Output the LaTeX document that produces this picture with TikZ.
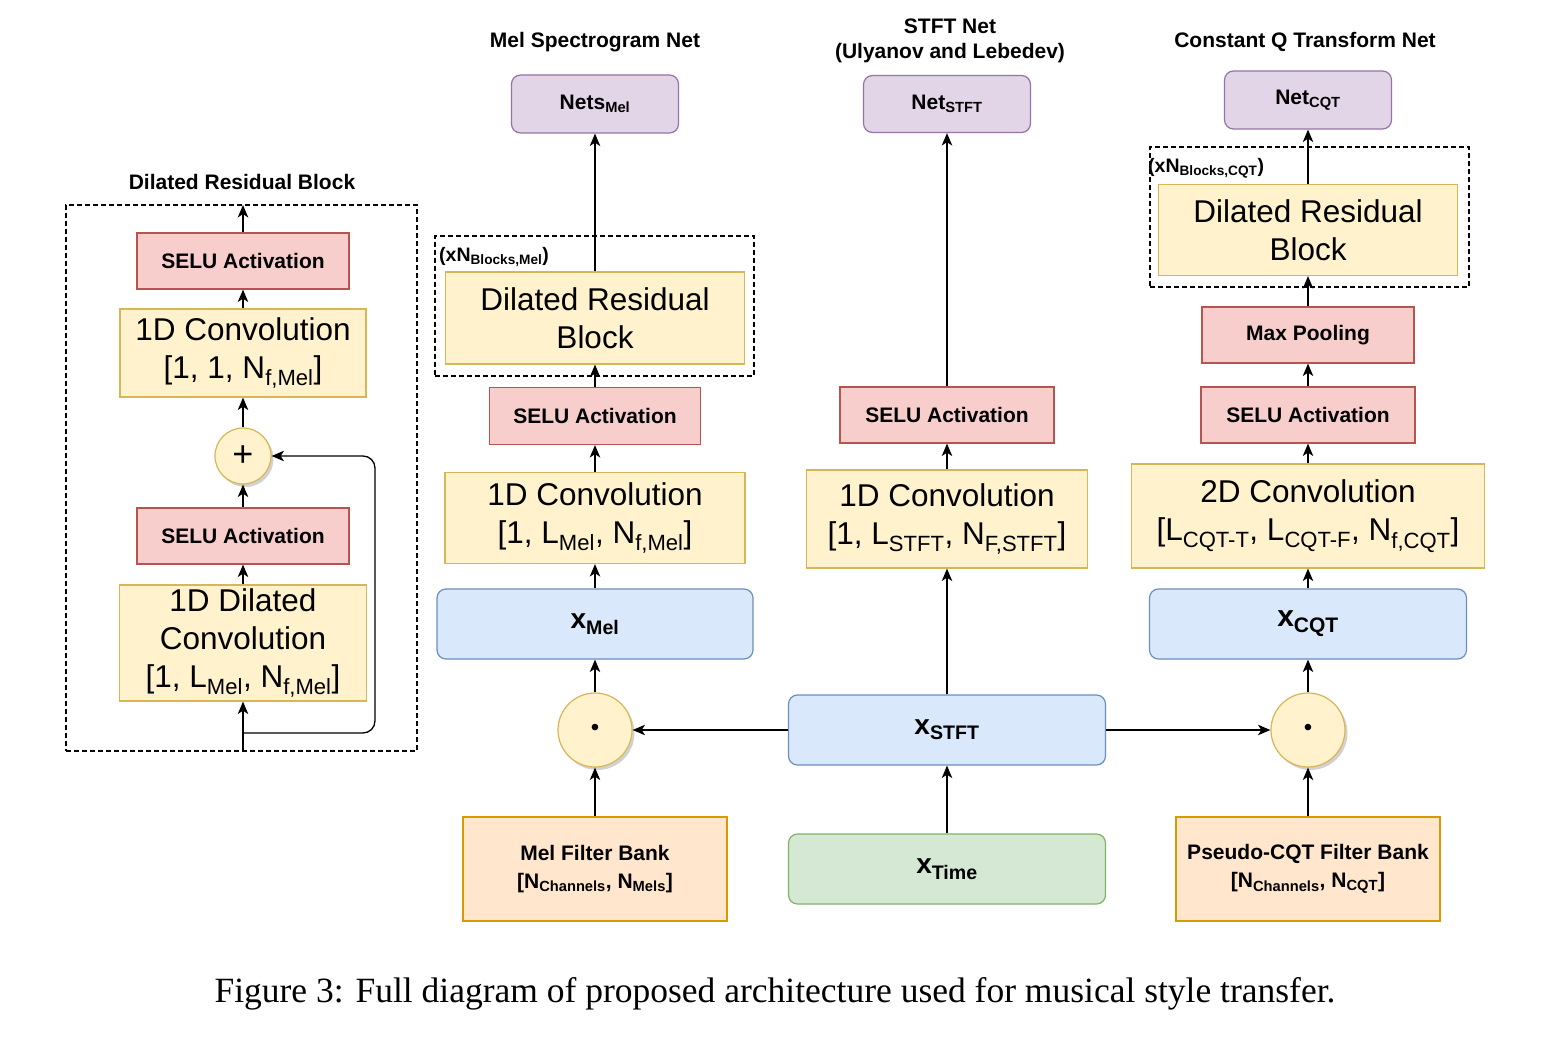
\documentclass[tikz,border=0pt]{standalone}
\usepackage{fontspec}
\setmainfont{Liberation Sans}
\newfontfamily\capfont{Liberation Serif}
\usetikzlibrary{arrows.meta,shadows}
\definecolor{yelF}{HTML}{FFF2CC}\definecolor{yelD}{HTML}{D6B656}
\definecolor{redF}{HTML}{F8CECC}\definecolor{redD}{HTML}{B85450}
\definecolor{purF}{HTML}{E1D5E7}\definecolor{purD}{HTML}{9673A6}
\definecolor{bluF}{HTML}{DAE8FC}\definecolor{bluD}{HTML}{6C8EBF}
\definecolor{grnF}{HTML}{D5E8D4}\definecolor{grnD}{HTML}{82B366}
\definecolor{orgF}{HTML}{FFE6CC}\definecolor{orgD}{HTML}{D79B00}
\newcommand\fbig{\fontsize{31.5}{38}\selectfont}
\newcommand\fsb{\fontsize{21}{28}\selectfont\bfseries}
\newcommand\fxv{\fontsize{28}{32}\selectfont\bfseries}
\newcommand\flab{\fontsize{19.5}{22}\selectfont\bfseries}
\newcommand\sbs[1]{\textsubscript{#1}}
\tikzset{
  base/.style={draw, line width=1.2pt, inner sep=0pt, align=center},
  yel/.style={base, fill=yelF, draw=yelD, font=\fbig},
  red/.style={base, fill=redF, draw=redD, font=\fsb},
  pur/.style={base, rounded corners=9pt, fill=purF, draw=purD, font=\fsb},
  blu/.style={base, rounded corners=9pt, fill=bluF, draw=bluD, font=\fxv},
  grn/.style={base, rounded corners=9pt, fill=grnF, draw=grnD, font=\fxv},
  org/.style={base, fill=orgF, draw=orgD, font=\fsb},
  op/.style={base, circle, fill=yelF, draw=yelD, minimum size=74pt,
    drop shadow={shadow xshift=2.5pt, shadow yshift=-3pt, opacity=0.35}},
  arr/.style={-{Stealth[length=12.5pt,width=10.5pt,inset=3.5pt]}, line width=1.3pt},
  dbox/.style={draw, line width=1.2pt, dash pattern=on 5pt off 3pt, inner sep=0pt},
  ttl/.style={font=\fsb, align=center, inner sep=0pt},
}
\begin{document}
\begin{tikzpicture}[x=1pt,y=-1pt]
\useasboundingbox[fill=white] (0,0) rectangle (1566,1056);

% ---------- left: dilated residual block ----------
\node[ttl] (tl) at (242,182) {Dilated Residual Block};
\node[dbox, minimum width=351pt, minimum height=546pt] (lbox) at (241.5,478) {};
\coordinate (lt) at (243,205);
\coordinate (lb) at (243,751);
\node[red, minimum width=212pt, minimum height=56pt] (ls2) at (243,261) {SELU Activation};
\node[yel, minimum width=246pt, minimum height=88pt] (lc2) at (243,353) {1D Convolution\\{[}1, 1, N\sbs{f,Mel}]};
\node[op, minimum size=56pt] (plus) at (243,456) {\fontsize{36}{36}\selectfont +};
\node[red, minimum width=212pt, minimum height=56pt] (ls1) at (243,536) {SELU Activation};
\node[yel, minimum width=247pt, minimum height=116pt] (ldc) at (243,643) {1D Dilated\\Convolution\\{[}1, L\sbs{Mel}, N\sbs{f,Mel}]};
\coordinate (lj) at (243,733);
\coordinate (sk1) at (375,733);
\coordinate (sk2) at (375,456);
\draw[arr] (lb) -- (ldc.south);
\draw[arr] (ldc) -- (ls1);
\draw[arr] (ls1) -- (plus);
\draw[arr] (plus) -- (lc2);
\draw[arr] (lc2) -- (ls2);
\draw[arr] (ls2.north) -- (lt);
\draw[arr, rounded corners=12pt] (lj) -- (sk1) -- (sk2) -- (plus.east);

% ---------- Mel column ----------
\node[ttl] (tm) at (595,42) {Mel Spectrogram Net};
\node[pur, minimum width=167pt, minimum height=58pt] (nm) at (595,104) {Nets\sbs{Mel}};
\node[dbox, minimum width=319pt, minimum height=140pt] (mbox) at (594.5,306) {};
\node[anchor=west, font=\flab, inner sep=0pt] (mlab) at (439,257) {(xN\sbs{Blocks,Mel})};
\node[yel, minimum width=299pt, minimum height=92pt] (mdrb) at (595,318) {Dilated Residual\\Block};
\node[red, minimum width=211pt, minimum height=57pt] (msel) at (595,416) {SELU Activation};
\node[yel, minimum width=300pt, minimum height=91pt] (mconv) at (595,518) {1D Convolution\\{[}1, L\sbs{Mel}, N\sbs{f,Mel}]};
\node[blu, minimum width=316pt, minimum height=70pt] (xmel) at (595,624) {x\sbs{Mel}};
\node[op] (dm) at (595,730) {\fontsize{24}{24}\selectfont\textbullet};
\node[org, minimum width=264pt, minimum height=104pt] (mfb) at (595,869) {Mel Filter Bank\\{[}N\sbs{Channels}, N\sbs{Mels}]};
\draw[arr] (mfb) -- (dm);
\draw[arr] (dm) -- (xmel);
\draw[arr] (xmel) -- (mconv);
\draw[arr] (mconv) -- (msel);
\draw[arr] (msel) -- (mdrb);
\draw[arr] (mdrb) -- (nm);

% ---------- STFT column ----------
\node[ttl, font=\fontsize{21}{25}\selectfont\bfseries] (ts) at (950,41) {STFT Net\\(Ulyanov and Lebedev)};
\node[pur, minimum width=167pt, minimum height=57pt] (ns) at (947,104) {Net\sbs{STFT}};
\node[red, minimum width=214pt, minimum height=56pt] (ssel) at (947,415) {SELU Activation};
\node[yel, minimum width=281pt, minimum height=98pt] (sconv) at (947,519) {1D Convolution\\{[}1, L\sbs{STFT}, N\sbs{F,STFT}]};
\node[blu, minimum width=317pt, minimum height=70pt] (xs) at (947,730) {x\sbs{STFT}};
\node[grn, minimum width=317pt, minimum height=70pt] (xt) at (947,869) {x\sbs{Time}};
\draw[arr] (xt) -- (xs);
\draw[arr] (xs) -- (sconv);
\draw[arr] (sconv) -- (ssel);
\draw[arr] (ssel) -- (ns);

% ---------- CQT column ----------
\node[ttl] (tc) at (1305,42) {Constant Q Transform Net};
\node[pur, minimum width=167pt, minimum height=58pt] (nc) at (1308,100) {Net\sbs{CQT}};
\node[dbox, minimum width=319pt, minimum height=140pt] (cbox) at (1309.5,217) {};
\node[anchor=west, font=\flab, inner sep=0pt] (clab) at (1148,168) {(xN\sbs{Blocks,CQT})};
\node[yel, minimum width=299pt, minimum height=91pt] (cdrb) at (1308,230) {Dilated Residual\\Block};
\node[red, minimum width=212pt, minimum height=56pt] (cmp) at (1308,335) {Max Pooling};
\node[red, minimum width=214pt, minimum height=56pt] (csel) at (1308,415) {SELU Activation};
\node[yel, minimum width=353pt, minimum height=104pt] (cconv) at (1308,516) {2D Convolution\\{[}L\sbs{CQT-T}, L\sbs{CQT-F}, N\sbs{f,CQT}]};
\node[blu, minimum width=317pt, minimum height=70pt, font=\fontsize{30}{34}\selectfont\bfseries] (xc) at (1308,624) {x\sbs{CQT}};
\node[op] (dc) at (1308,730) {\fontsize{24}{24}\selectfont\textbullet};
\node[org, minimum width=264pt, minimum height=104pt] (cfb) at (1308,869) {Pseudo-CQT Filter Bank\\{[}N\sbs{Channels}, N\sbs{CQT}]};
\draw[arr] (cfb) -- (dc);
\draw[arr] (dc) -- (xc);
\draw[arr] (xc) -- (cconv);
\draw[arr] (cconv) -- (csel);
\draw[arr] (csel) -- (cmp);
\draw[arr] (cmp) -- (cdrb);
\draw[arr] (cdrb) -- (nc);

% ---------- cross connections ----------
\draw[arr] (xs.west) -- (dm.east);
\draw[arr] (xs.east) -- (dc.west);

% ---------- caption ----------
\node[inner sep=0pt, font=\capfont\fontsize{35.5}{40}\selectfont] (cap) at (775,994) {Figure 3: Full diagram of proposed architecture used for musical style transfer.};
\end{tikzpicture}
\end{document}
